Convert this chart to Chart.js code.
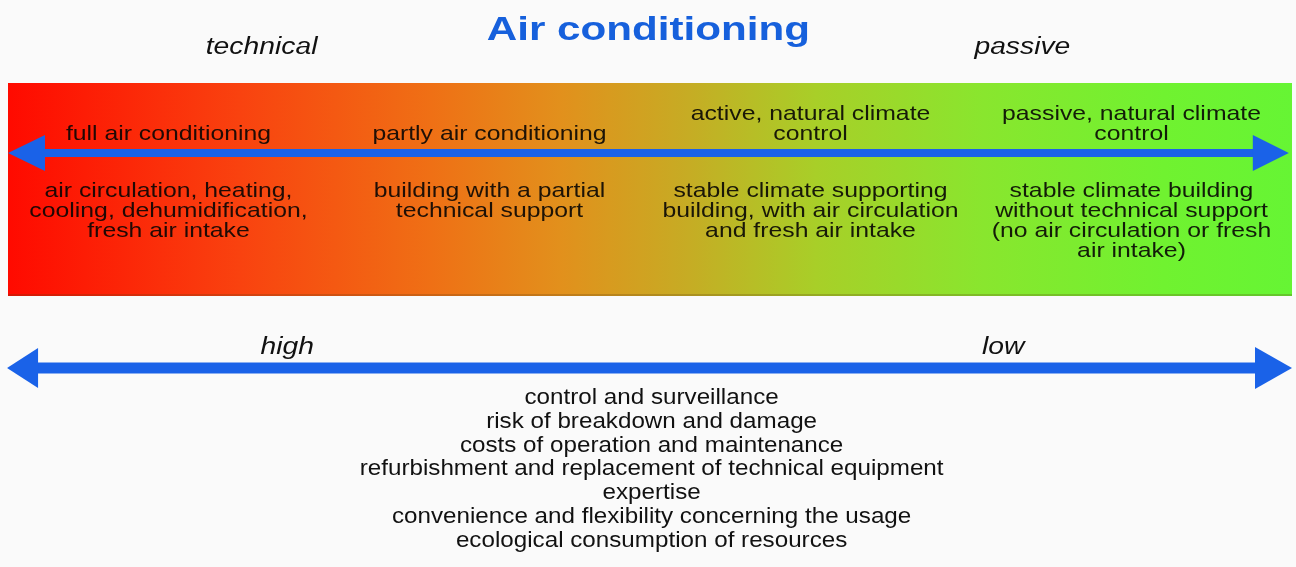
<!DOCTYPE html>
<html>
<head>
<meta charset="utf-8">
<script src="https://cdn.jsdelivr.net/npm/chart.js@4"></script>
<style>
  html, body { margin: 0; padding: 0; background: #fafafa; }
  #wrap { width: 1296px; height: 567px; }
</style>
</head>
<body>
<div id="wrap"><canvas id="diagram" width="1296" height="567"></canvas></div>
<script>
// spectrum from technical (left) to passive (right), four steps
const titleText = "Air conditioning";
const endLabels = ["technical", "passive"];
const upperLabels = [
    ["full air conditioning"],
    ["partly air conditioning"],
    ["active, natural climate", "control"],
    ["passive, natural climate", "control"]
];
const lowerLabels = [
    ["air circulation, heating,", "cooling, dehumidification,", "fresh air intake"],
    ["building with a partial", "technical support"],
    ["stable climate supporting", "building, with air circulation", "and fresh air intake"],
    ["stable climate building", "without technical support", "(no air circulation or fresh", "air intake)"]
];
const levelLabels = ["high", "low"];
const criteria = [
    "control and surveillance",
    "risk of breakdown and damage",
    "costs of operation and maintenance",
    "refurbishment and replacement of technical equipment",
    "expertise",
    "convenience and flexibility concerning the usage",
    "ecological consumption of resources"
];
// arrow tips on the spectrum axis (0 = technical end, 4 = passive end)
const topArrowTips = [0, 3.99];
const bottomArrowTips = [-0.003, 4.0];

const BLUE = "#1a62e8";
const bandTop = 83, bandBottom = 296;
const topArrowY = 153, bottomArrowY = 368;

function shaft(tips, y) {
    return [{x: tips[0] + 0.05, y: y}, {x: tips[1] - 0.05, y: y}];
}

function bandGradient(context) {
    const chart = context.chart;
    const area = chart.chartArea;
    if (!area) return "#f80";
    const g = chart.ctx.createLinearGradient(area.left, 0, area.right, 0);
    g.addColorStop(0, "#ff0a00");
    g.addColorStop(0.18, "#f9420f");
    g.addColorStop(0.33, "#ef7015");
    g.addColorStop(0.43, "#e2901c");
    g.addColorStop(0.53, "#c6ac24");
    g.addColorStop(0.63, "#a8cf28");
    g.addColorStop(0.76, "#89e62e");
    g.addColorStop(0.9, "#70f230");
    g.addColorStop(1, "#66f534");
    return g;
}

function drawText(ctx, text, x, y, font, color, sx) {
    ctx.save();
    ctx.font = font;
    ctx.fillStyle = color;
    ctx.textAlign = "center";
    ctx.textBaseline = "middle";
    ctx.translate(x, y);
    ctx.scale(sx, 1);
    ctx.fillText(text, 0, 0);
    ctx.restore();
}

function drawHead(ctx, tipX, y, dir, len, half) {
    ctx.beginPath();
    ctx.moveTo(tipX, y);
    ctx.lineTo(tipX - dir * len, y - half);
    ctx.lineTo(tipX - dir * len, y + half);
    ctx.closePath();
    ctx.fill();
}

const diagramPlugin = {
    id: "diagram",
    afterDatasetsDraw(chart) {
        const ctx = chart.ctx;
        const xs = chart.scales.x;
        const ys = chart.scales.y;
        const px = v => xs.getPixelForValue(v);
        const py = v => ys.getPixelForValue(v);

        // thin shade along the lower edge of the band
        ctx.save();
        ctx.fillStyle = "rgba(90,60,20,0.25)";
        ctx.fillRect(px(0), py(bandBottom) - 2, px(4) - px(0), 2);
        ctx.restore();

        // arrow heads
        ctx.save();
        ctx.fillStyle = BLUE;
        drawHead(ctx, px(topArrowTips[0]), py(topArrowY), -1, 37, 18);
        drawHead(ctx, px(topArrowTips[1]), py(topArrowY), 1, 36, 18);
        drawHead(ctx, px(bottomArrowTips[0]), py(bottomArrowY), -1, 31, 20);
        drawHead(ctx, px(bottomArrowTips[1]), py(bottomArrowY), 1, 37, 21);
        ctx.restore();

        const bandFont = "21px 'Liberation Sans', Arial, sans-serif";
        const ink = "rgba(8,6,4,0.9)";
        upperLabels.forEach((lines, i) => {
            const cx = px(i + 0.5);
            lines.forEach((t, j) => {
                const y = 134 - (lines.length - 1 - j) * 20;
                drawText(ctx, t, cx, py(y), bandFont, ink, 1.18);
            });
        });
        lowerLabels.forEach((lines, i) => {
            const cx = px(i + 0.5);
            lines.forEach((t, j) => {
                drawText(ctx, t, cx, py(191 + j * 20), bandFont, ink, 1.18);
            });
        });

        drawText(ctx, titleText, px(1.995), py(31), "bold 34px 'Liberation Sans', Arial, sans-serif", "#1660dc", 1.24);
        const ital = "italic 23px 'Liberation Sans', Arial, sans-serif";
        drawText(ctx, endLabels[0], px(0.79), py(48), ital, "#111", 1.23);
        drawText(ctx, endLabels[1], px(3.16), py(48), ital, "#111", 1.23);
        drawText(ctx, levelLabels[0], px(0.87), py(348), ital, "#111", 1.23);
        drawText(ctx, levelLabels[1], px(3.1), py(348), ital, "#111", 1.23);

        criteria.forEach((t, j) => {
            drawText(ctx, t, px(2.005), py(398 + j * 23.8), "22px 'Liberation Sans', Arial, sans-serif", "#111", 1.1);
        });
    }
};

new Chart(document.getElementById("diagram"), {
    type: "scatter",
    data: {
        datasets: [
            {
                type: "line",
                order: 10,
                data: [{x: 0, y: bandTop}, {x: 4, y: bandTop}],
                borderWidth: 0,
                pointRadius: 0,
                fill: "+1",
                backgroundColor: bandGradient
            },
            {
                type: "line",
                order: 9,
                data: [{x: 0, y: bandBottom}, {x: 4, y: bandBottom}],
                borderWidth: 0,
                pointRadius: 0,
                fill: false
            },
            {
                type: "line",
                order: 1,
                data: shaft(topArrowTips, topArrowY),
                borderColor: BLUE,
                borderWidth: 8,
                borderCapStyle: "butt",
                pointRadius: 0,
                fill: false,
                clip: false
            },
            {
                type: "line",
                order: 0,
                data: shaft(bottomArrowTips, bottomArrowY),
                borderColor: BLUE,
                borderWidth: 11,
                borderCapStyle: "butt",
                pointRadius: 0,
                fill: false,
                clip: false
            }
        ]
    },
    options: {
        responsive: false,
        animation: false,
        layout: {padding: {left: 8, right: 4, top: 0, bottom: 0}},
        plugins: {
            legend: {display: false},
            tooltip: {enabled: false},
            filler: {drawTime: "beforeDatasetsDraw"}
        },
        scales: {
            x: {type: "linear", min: 0, max: 4, display: false},
            y: {type: "linear", min: 0, max: 567, reverse: true, display: false}
        }
    },
    plugins: [diagramPlugin]
});
</script>
</body>
</html>
